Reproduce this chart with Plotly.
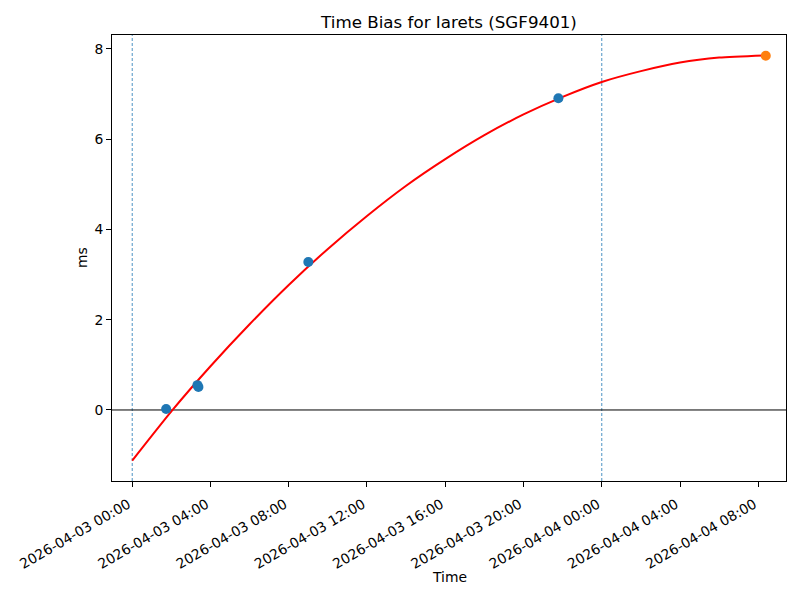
import plotly.graph_objects as go

# ---- data ----
obs_times = ["2026-04-03 01:44", "2026-04-03 03:20", "2026-04-03 03:23",
             "2026-04-03 09:00", "2026-04-03 21:47"]
obs_values = [0.02, 0.55, 0.51, 3.28, 6.91]

pred_time = ["2026-04-04 08:23"]
pred_value = [7.85]

fit_times = ["2026-04-03 00:00", "2026-04-03 02:00", "2026-04-03 04:00", "2026-04-03 06:00",
             "2026-04-03 08:00", "2026-04-03 10:00", "2026-04-03 12:00", "2026-04-03 14:00",
             "2026-04-03 16:00", "2026-04-03 18:00", "2026-04-03 20:00", "2026-04-03 22:00",
             "2026-04-04 00:00", "2026-04-04 02:00", "2026-04-04 04:00", "2026-04-04 06:00",
             "2026-04-04 08:23"]
fit_values = [-1.12, -0.03, 0.97, 1.90, 2.77, 3.57, 4.30, 4.97,
              5.56, 6.09, 6.55, 6.94, 7.27, 7.51, 7.70, 7.81, 7.86]

day_marks = ["2026-04-03 00:00", "2026-04-04 00:00"]

x_range = ["2026-04-02 22:58", "2026-04-04 09:25"]
y_range = [-1.574, 8.31]
y_ticks = [0, 2, 4, 6, 8]

title = "Time Bias for Iarets (SGF9401)"
FONT = "DejaVu Sans"

fig = go.Figure()
fig.add_trace(go.Scatter(x=fit_times, y=fit_values, mode="lines",
                         line=dict(color="red", width=2, shape="spline", smoothing=0.6),
                         hoverinfo="skip", showlegend=False))
fig.add_trace(go.Scatter(x=obs_times, y=obs_values, mode="markers",
                         marker=dict(color="#1f77b4", size=10, line=dict(width=0)),
                         showlegend=False))
fig.add_trace(go.Scatter(x=pred_time, y=pred_value, mode="markers",
                         marker=dict(color="#ff7f0e", size=10, line=dict(width=0)),
                         showlegend=False))

shapes = []
for d in day_marks:
    shapes.append(dict(type="line", xref="x", yref="paper", x0=d, x1=d, y0=0, y1=1,
                       line=dict(color="#1f77b4", width=0.8, dash="3px,2px"), layer="below"))
shapes.append(dict(type="line", xref="paper", yref="y", x0=0, x1=1, y0=0, y1=0,
                   line=dict(color="black", width=1), layer="below"))

# the page body has an 8px margin, so the figure is sized/offset to compensate
W, H = 792, 592
fig.update_layout(
    width=W, height=H,
    margin=dict(l=104, r=14, t=27, b=119, autoexpand=False),
    paper_bgcolor="white", plot_bgcolor="white",
    font=dict(family=FONT, size=13.9, color="black"),
    title=dict(text=title, xref="paper", x=0.5, xanchor="center",
               y=1 - 14 / H, yanchor="middle", font=dict(size=16.7, family=FONT)),
    shapes=shapes,
    showlegend=False,
    xaxis=dict(type="date", range=x_range, tickformat="%Y-%m-%d %H:%M",
               tick0="2026-04-03 00:00", dtick=4 * 3600 * 1000, tickangle=-30,
               ticks="outside", ticklen=5, tickwidth=1, tickcolor="black",
               ticklabelstandoff=4, ticklabelshift=-4, automargin=False,
               showline=True, linecolor="black", linewidth=1, mirror=True,
               showgrid=False, zeroline=False, tickfont=dict(size=13.9)),
    yaxis=dict(range=y_range, tickvals=y_ticks, ticks="outside", ticklen=5, tickwidth=1,
               automargin=False,
               tickcolor="black", showline=True, linecolor="black", linewidth=1, mirror=True,
               showgrid=False, zeroline=False, tickfont=dict(size=13.9)),
    annotations=[
        dict(text="Time", xref="paper", yref="paper", x=0.5, y=-(577 - 481) / 446,
             xanchor="center", yanchor="middle", showarrow=False, font=dict(size=13.9)),
        dict(text="ms", xref="paper", yref="paper", x=-(112 - 82) / 674, y=0.5,
             xanchor="center", yanchor="middle", textangle=-90, showarrow=False,
             font=dict(size=13.9)),
    ],
)

fig.write_html("out.html")
